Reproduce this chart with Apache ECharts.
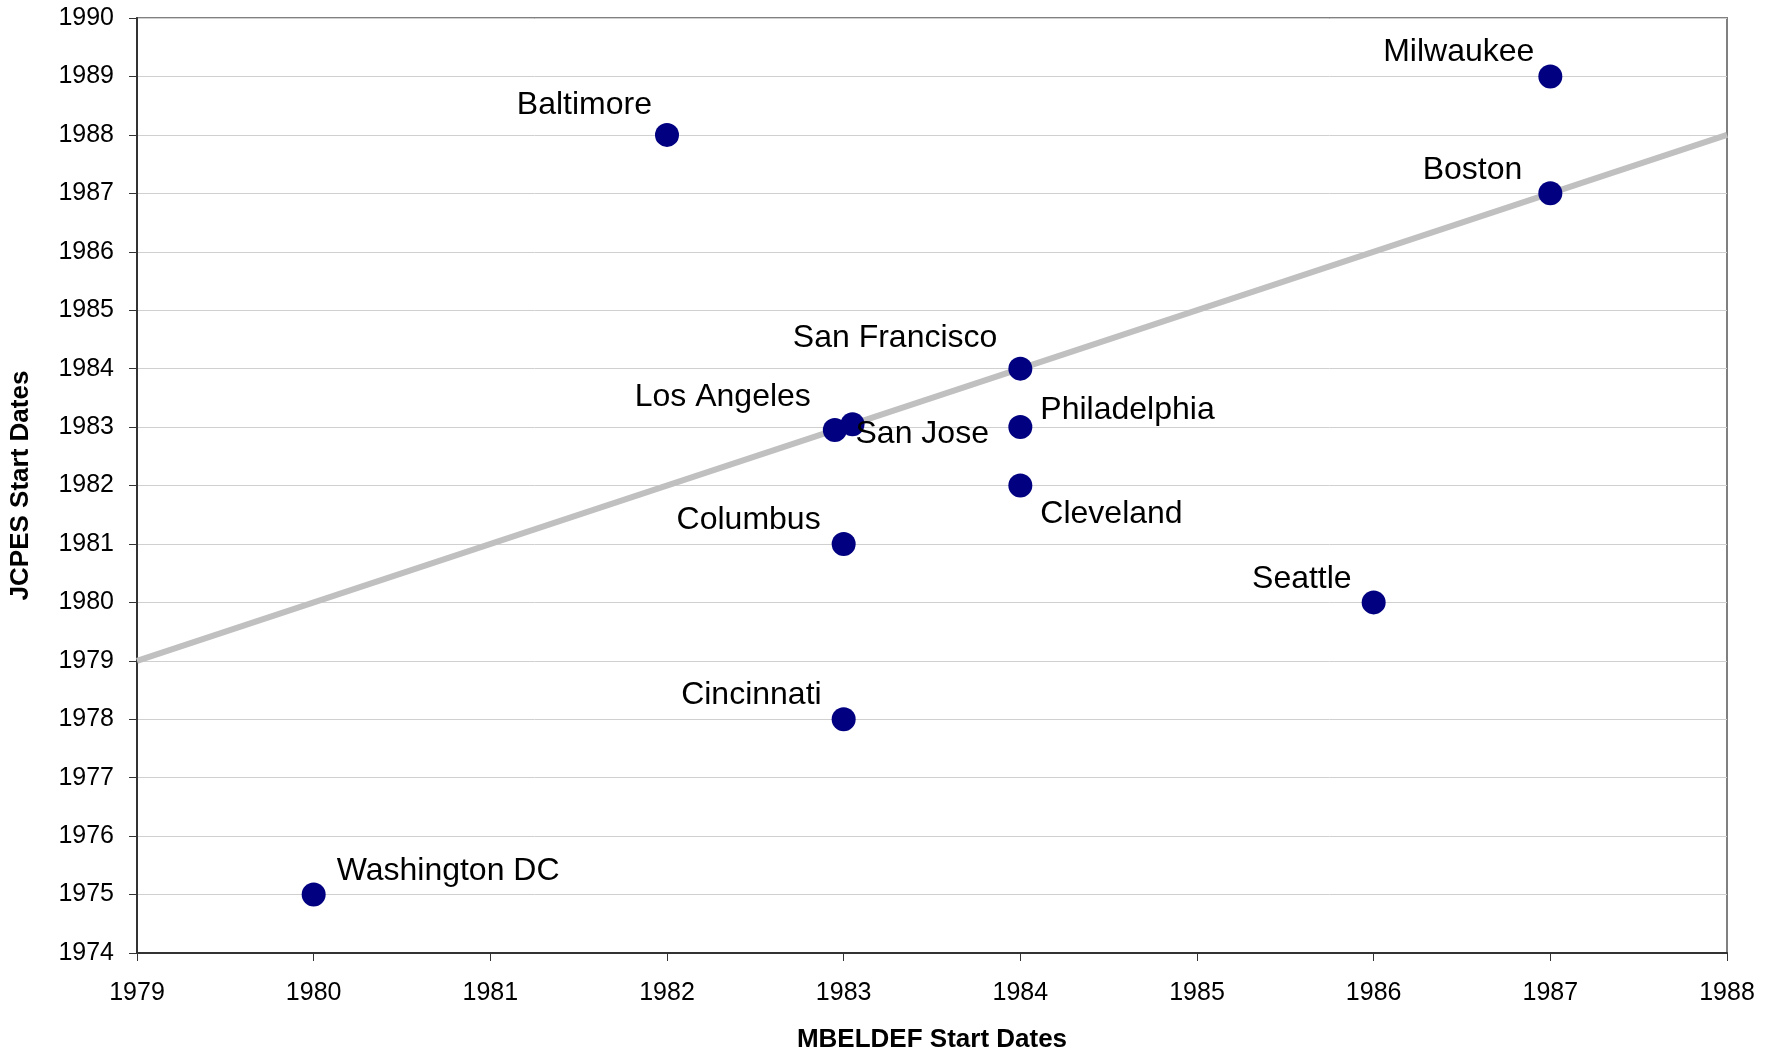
<!DOCTYPE html>
<html><head><meta charset="utf-8">
<script src="https://cdn.jsdelivr.net/npm/echarts@6/dist/echarts.min.js"></script>
<style>html,body{margin:0;padding:0;background:#fff}#c{width:1778px;height:1058px}</style>
</head><body><div id="c"></div>
<script>
// Data
var cities = ["Washington DC","Baltimore","Los Angeles","San Jose","Columbus","Cincinnati","San Francisco","Philadelphia","Cleveland","Seattle","Milwaukee","Boston"];
var mbeldefStart = [1980, 1982, 1982.95, 1983.05, 1983, 1983, 1984, 1984, 1984, 1986, 1987, 1987];
var jcpesStart  = [1975, 1988, 1982.95, 1983.05, 1981, 1978, 1984, 1983, 1982, 1980, 1989, 1987];
var lineX = [1979, 1988];
var lineY = [1979, 1988];

// Label placement (layout only): alignment and pixel offset from dot centre
var labelPlace = {
  "Washington DC": ["left", 23, -23],
  "Baltimore": ["right", -15, -30],
  "Los Angeles": ["right", -24, -33],
  "San Jose": ["left", 3, 10],
  "Columbus": ["right", -23, -24],
  "Cincinnati": ["right", -22, -24],
  "San Francisco": ["right", -23, -30],
  "Philadelphia": ["left", 20, -17],
  "Cleveland": ["left", 20, 29],
  "Seattle": ["right", -22, -23],
  "Milwaukee": ["right", -16, -24],
  "Boston": ["right", -28, -23]
};

var SYM = 24;
var FONT = '"Liberation Sans", Arial, sans-serif';
var pts = cities.map(function(name, i){
  var p = labelPlace[name];
  return {
    name: name,
    value: [mbeldefStart[i], jcpesStart[i]],
    label: {
      show: true,
      formatter: name,
      position: [SYM/2 + p[1], SYM/2 + p[2]],
      align: p[0],
      verticalAlign: 'middle',
      fontFamily: FONT, fontSize: 32, color: '#000000'
    }
  };
});

var chart = echarts.init(document.getElementById('c'), null, {renderer:'canvas'});
chart.setOption({
  animation: false,
  backgroundColor: '#ffffff',
  grid: {left: 131, top: 18, right: 51, bottom: 99, show: true, borderColor: '#808080', borderWidth: 2, containLabel: false},
  xAxis: {
    type: 'value', min: 1979, max: 1988, interval: 1,
    name: 'MBELDEF Start Dates', nameLocation: 'middle', nameGap: 74,
    nameTextStyle: {fontFamily: FONT, fontSize: 26, fontWeight: 'bold', color: '#000'},
    axisLine: {show: true, lineStyle: {color: '#333333', width: 2}},
    axisTick: {show: true, length: 8, lineStyle: {color: '#333333', width: 1}},
    axisLabel: {fontFamily: FONT, fontSize: 25, color: '#000', margin: 28, formatter: function(v){ return String(v); }},
    splitLine: {show: false}
  },
  yAxis: {
    type: 'value', min: 1974, max: 1990, interval: 1,
    name: 'JCPES Start Dates', nameLocation: 'middle', nameGap: 103,
    nameTextStyle: {fontFamily: FONT, fontSize: 26, fontWeight: 'bold', color: '#000'},
    axisLine: {show: true, lineStyle: {color: '#333333', width: 2}},
    axisTick: {show: true, length: 8, lineStyle: {color: '#333333', width: 1}},
    axisLabel: {fontFamily: FONT, fontSize: 25, color: '#000', margin: 23, formatter: function(v){ return String(v); }},
    splitLine: {show: true, lineStyle: {color: '#d0d0d0', width: 1}}
  },
  series: [
    {
      type: 'line',
      data: lineX.map(function(x, i){ return [x, lineY[i]]; }),
      symbol: 'none',
      lineStyle: {color: '#c0c0c0', width: 6},
      silent: true, z: 1
    },
    {
      type: 'scatter',
      data: pts,
      symbol: 'circle',
      symbolSize: SYM,
      itemStyle: {color: '#000080', opacity: 1},
      z: 3
    }
  ]
});
</script></body></html>
